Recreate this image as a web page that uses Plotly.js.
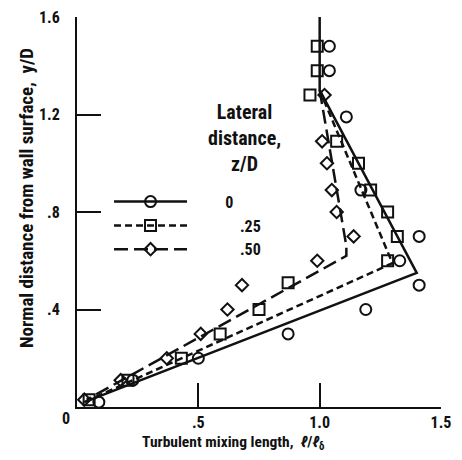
<!DOCTYPE html>
<html><head><meta charset="utf-8">
<script src="https://cdn.plot.ly/plotly-3.0.1.min.js"></script>
<style>html,body{margin:0;padding:0;background:#fff}</style>
</head><body>
<div id="chart" style="width:462px;height:460px"></div>
<script>
// ---- data ----
const seriesNames = ['0', '.25', '.50'];
const circleX  = [1.04, 1.04, 1.11, 1.17, 1.41, 1.33, 1.41, 1.19, 0.87, 0.50, 0.23, 0.09];
const circleY  = [1.48, 1.38, 1.19, 0.89, 0.70, 0.60, 0.50, 0.40, 0.30, 0.20, 0.11, 0.02];
const squareX  = [0.99, 0.99, 0.96, 1.07, 1.16, 1.21, 1.28, 1.32, 1.28, 0.87, 0.75, 0.59, 0.43, 0.21, 0.05];
const squareY  = [1.48, 1.38, 1.28, 1.09, 1.00, 0.89, 0.80, 0.70, 0.60, 0.51, 0.40, 0.30, 0.20, 0.11, 0.03];
const diamondX = [1.02, 1.01, 1.03, 1.05, 1.07, 1.14, 0.99, 0.68, 0.62, 0.51, 0.37, 0.18, 0.03];
const diamondY = [1.28, 1.09, 1.00, 0.89, 0.80, 0.70, 0.60, 0.50, 0.40, 0.30, 0.20, 0.11, 0.03];
const fit0X  = [1.00, 1.00, 1.40, 0.03];
const fit0Y  = [1.60, 1.30, 0.55, 0.02];
const fit25X = [1.00, 1.30, 0.03];
const fit25Y = [1.30, 0.59, 0.02];
const fit50X = [1.00, 1.11, 1.11, 0.04];
const fit50Y = [1.30, 0.66, 0.62, 0.03];
const xTickVals = [0.5, 1.0, 1.5];
const xTickText = ['.5', '1.0', '1.5'];
const yTickVals = [0.4, 0.8, 1.2, 1.6];
const yTickText = ['.4', '.8', '1.2', '1.6'];

// ---- styling ----
const FONT = "'Roboto Condensed', 'Noto Sans', sans-serif";
const INK = '#111';
const dashes = ['solid', '7px,4px', '14px,6px'];
const symbols = ['circle-open', 'square-open', 'diamond-open'];
const sizes = [11, 11, 9.5];
const NB = '\u00a0';
const pads = [NB.repeat(9), NB.repeat(13), NB.repeat(13)];

// isolate points with gaps so the marker trace draws no connecting line
function gapped(a) { const o = []; a.forEach((v, i) => { if (i) o.push(null); o.push(v); }); return o; }

const fits = [[fit0X, fit0Y], [fit25X, fit25Y], [fit50X, fit50Y]];
const pts = [[circleX, circleY], [squareX, squareY], [diamondX, diamondY]];

const traces = [];
fits.forEach((f, i) => traces.push({
  x: f[0], y: f[1], type: 'scatter', mode: 'lines', showlegend: false,
  line: {color: INK, width: 2.5, dash: dashes[i]}, cliponaxis: false, hoverinfo: 'skip'
}));
pts.forEach((p, i) => traces.push({
  x: gapped(p[0]), y: gapped(p[1]), type: 'scatter', mode: 'lines+markers',
  connectgaps: false, name: pads[i] + seriesNames[i], cliponaxis: false,
  line: {color: INK, width: 2.5, dash: dashes[i]},
  marker: {symbol: symbols[i], size: sizes[i], color: INK, line: {color: INK, width: 2}}
}));

const layout = {
  width: 462, height: 460,
  margin: {l: 77, r: 21, t: 17, b: 53},
  paper_bgcolor: '#fff', plot_bgcolor: '#fff',
  font: {family: FONT, color: INK, size: 16, weight: 'bold'},
  showlegend: true,
  legend: {x: 0.088, y: 0.57, xanchor: 'left', yanchor: 'top', bgcolor: 'rgba(0,0,0,0)',
           font: {size: 16, family: FONT, weight: 'bold'}, itemwidth: 73, tracegroupgap: 0},
  xaxis: {range: [0, 1.5], showline: true, linewidth: 2, linecolor: INK, mirror: false,
          ticks: 'inside', ticklen: 24, tickwidth: 2, tickcolor: INK,
          tickvals: xTickVals, ticktext: xTickText, showgrid: false, zeroline: false,
          tickfont: {size: 16, family: FONT, weight: 'bold'}},
  yaxis: {range: [0, 1.6], showline: true, linewidth: 2, linecolor: INK, mirror: false,
          ticks: 'inside', ticklen: 24, tickwidth: 2, tickcolor: INK,
          tickvals: yTickVals, ticktext: yTickText, showgrid: false, zeroline: false,
          ticklabelstandoff: 12, tickfont: {size: 16, family: FONT, weight: 'bold'}},
  annotations: [
    {text: '0', xref: 'x', yref: 'y', x: 0, y: 0, xshift: -11, yshift: -11, showarrow: false,
     font: {size: 16}},
    {text: 'Turbulent mixing length,  <i>ℓ</i>/<i>ℓ</i><sub>δ</sub>', xref: 'paper', yref: 'paper',
     x: 0.431, y: -0.092, xanchor: 'center', yanchor: 'middle', showarrow: false, font: {size: 15.5}},
    {text: 'Normal distance from wall surface,  y/D', xref: 'paper', yref: 'paper',
     x: -0.137, y: 0.536, xanchor: 'center', yanchor: 'middle', textangle: -90, showarrow: false,
     font: {size: 19}},
    {text: 'Lateral<br>distance,<br>z/D', xref: 'paper', yref: 'paper', x: 0.4615, y: 0.691,
     xanchor: 'center', yanchor: 'middle', align: 'center', showarrow: false, font: {size: 20}}
  ]
};

Plotly.newPlot('chart', traces, layout, {displayModeBar: false, staticPlot: true});
</script>
</body></html>
